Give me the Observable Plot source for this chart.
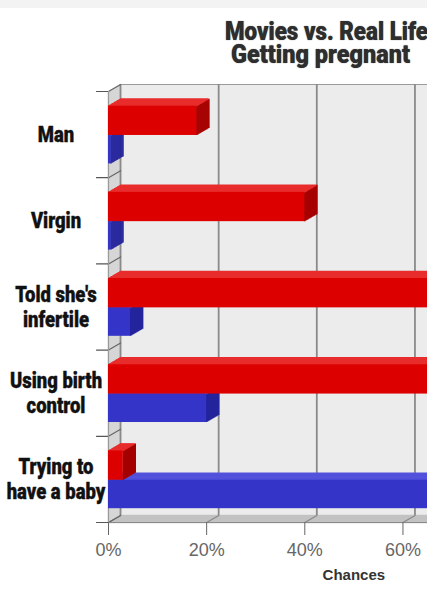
<!DOCTYPE html>
<html>
<head>
<meta charset="utf-8">
<script src="https://cdn.jsdelivr.net/npm/d3@7"></script>
<script src="https://cdn.jsdelivr.net/npm/@observablehq/plot@0.6"></script>
<style>
  html, body { margin: 0; padding: 0; background: #ffffff; overflow: hidden; }
  #wrap { position: relative; width: 427px; height: 600px; overflow: hidden; background: #ffffff; }
  #topstrip { position: absolute; left: 0; top: 0; width: 427px; height: 8px; background: #f3f3f3; }
  #title { position: absolute; left: 213px; top: 21px; width: 214px; text-align: center;
    font-family: "Roboto", "Liberation Sans", sans-serif;
    font-weight: 900; font-size: 25px; color: #2e2e2e; }
  #title .line { display: block; height: 21px; line-height: 21px; margin-bottom: 2px; }
  #title span { display: inline-block; white-space: nowrap; line-height: 21px; transform-origin: 50% 50%; text-shadow: 0 0 1px #444; }
  svg { overflow: hidden; }
  g[aria-label="text"][font-size="22"] { transform-origin: 108px 0; transform: translateX(-52px) scaleX(0.84); }
</style>
</head>
<body>
<div id="wrap">
  <div id="topstrip"></div>
  <div id="chart"></div>
  <div id="title"></div>
</div>
<script>
const titleLines = ["Movies vs. Real Life", "Getting pregnant"];
const titleWidths = [203, 179];
const categories = ["Man", "Virgin", "Told she's\ninfertile", "Using birth\ncontrol", "Trying to\nhave a baby"];
const movies = [18, 40, 100, 100, 3];
const realLife = [0.5, 0.5, 4.5, 20, 100];
const xTicks = [0, 20, 40, 60];
const xVisible = [0, 65];
const fullAxis = [0, 100];
const xLabel = "Chances";

const titleEl = document.getElementById("title");
titleLines.forEach((t) => {
  const line = document.createElement("div");
  line.className = "line";
  const s = document.createElement("span");
  s.textContent = t;
  line.appendChild(s);
  titleEl.appendChild(line);
});

const moviesRows = categories.map((c, i) => ({cat: c, i, value: movies[i]}));
const realRows = categories.map((c, i) => ({cat: c, i, value: realLife[i]}));
const yBounds = d3.range(categories.length + 1);
const floorY = categories.length;

const DEPTH = 12, STEPS = 12, DYPX = 7;
const edge = {draw(context, l) { context.moveTo(0, 0); context.lineTo(0, -l); }};

function depthCopies(make) {
  const out = [];
  for (let k = 0; k <= STEPS; k++) out.push(make(k * DEPTH / STEPS, -k * DYPX / STEPS));
  return out;
}

function prism(rows, y1, y2, colors) {
  return [
    ...depthCopies((dx, dy) => Plot.ruleX(rows, {x: "value", y1, y2, dx, dy, stroke: colors.side, strokeWidth: 1.6})),
    ...depthCopies((dx, dy) => Plot.ruleY(rows, {y: y1, x1: () => 0, x2: "value", dx, dy, stroke: colors.top, strokeWidth: 1.6})),
    Plot.rect(rows, {x1: () => 0, x2: "value", y1, y2, fill: colors.front})
  ];
}

const redY1 = d => d.i + 0.17, redY2 = d => d.i + 0.51;
const blueY1 = d => d.i + 0.51, blueY2 = d => d.i + 0.84;

const chart = Plot.plot({
  width: 427,
  height: 600,
  marginLeft: 108,
  marginRight: 0,
  marginTop: 91,
  marginBottom: 78,
  style: {fontFamily: "'Liberation Sans', Arial, sans-serif", fontSize: "18px", background: "transparent"},
  x: {domain: xVisible},
  y: {domain: [0, floorY], reverse: true, axis: null},
  marks: [
    Plot.frame({fill: "#ececec", stroke: "#9a9a9a", dx: DEPTH, dy: -DYPX}),
    ...depthCopies((dx, dy) => Plot.ruleX([0], {dx, dy, stroke: "#d6d6d6", strokeWidth: 1.6})),
    ...depthCopies((dx, dy) => Plot.ruleY([floorY], {dx, dy, stroke: "#c2c2c2", strokeWidth: 1.6})),
    Plot.ruleX(xTicks, {dx: DEPTH, dy: -DYPX, stroke: "#8a8a8a", strokeWidth: 1.8}),
    Plot.vector(xTicks, {x: d => d, y: () => floorY, length: 14, rotate: 60, anchor: "start", shape: edge, stroke: "#8a8a8a", strokeWidth: 1.3}),
    Plot.vector(yBounds, {x: () => 0, y: d => d, length: 14, rotate: 60, anchor: "start", shape: edge, stroke: "#666", strokeWidth: 1.2}),
    Plot.vector(yBounds, {x: () => 0, y: d => d, length: 12, rotate: -90, anchor: "start", shape: edge, stroke: "#555", strokeWidth: 1.2}),
    Plot.ruleX([0], {stroke: "#9a9a9a", strokeWidth: 1.2}),
    Plot.ruleY([floorY], {stroke: "#8a8a8a", strokeWidth: 1.2}),
    ...prism(realRows, blueY1, blueY2, {front: "#3434c8", top: "#5252dc", side: "#24249c"}),
    ...prism(moviesRows, redY1, redY2, {front: "#dc0000", top: "#e82c2c", side: "#a60000"}),
    Plot.axisX(xTicks, {tickSize: 13, tickPadding: 8, tickFormat: d => d + "%", color: "#666", fontSize: 18, label: null}),
    Plot.text([xLabel], {x: () => d3.mean(fullAxis), frameAnchor: "bottom", dy: 57, fontWeight: "bold", fontSize: 15, fill: "#333"}),
    Plot.text(categories, {x: () => 0, y: (d, i) => i + 0.5, text: d => d, textAnchor: "middle", lineAnchor: "middle",
      fontSize: 22, fontWeight: 900, fontFamily: "Roboto, 'Liberation Sans', sans-serif",
      lineHeight: 1.14, fill: "#111", stroke: "#111", strokeWidth: 0.4})
  ]
});
document.getElementById("chart").appendChild(chart);

// fit each title line to its width in the reference
titleEl.querySelectorAll("span").forEach((s, i) => {
  const w = s.getBoundingClientRect().width;
  s.style.transform = `scaleX(${titleWidths[i] / w})`;
});
</script>
</body>
</html>
